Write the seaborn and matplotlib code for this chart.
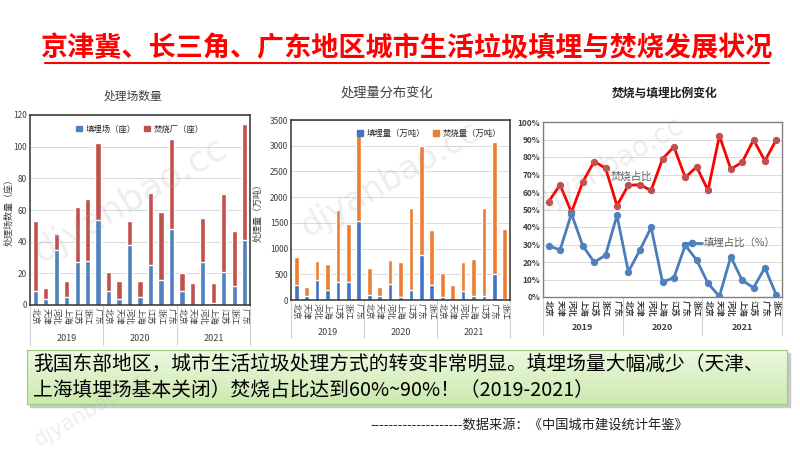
import seaborn as sns
import matplotlib.pyplot as plt
import matplotlib.transforms as mtransforms
from matplotlib.patches import Patch, Rectangle
from matplotlib.lines import Line2D
import pandas as pd
import numpy as np

years = ["2019", "2020", "2021"]
cities_a = ["北京", "天津", "河北", "上海", "江苏", "浙江", "广东"]
cities_b = ["北京", "天津", "河北", "上海", "江苏", "广东", "浙江"]
labels_sites = cities_a * 3
labels_mass = cities_a + cities_b + cities_b

# 处理场数量（座）
landfill_sites = [9, 4, 35, 5, 27, 28, 54, 9, 4, 38, 5, 25, 16, 48, 9, 0, 27, 1, 21, 12, 41]
incin_sites = [44, 7, 10, 10, 35, 39, 48, 12, 11, 15, 10, 46, 43, 57, 11, 14, 28, 13, 49, 35, 73]

# 处理量（万吨）
landfill_mass = [285, 70, 380, 200, 345, 350, 1535, 105, 70, 305, 52, 187, 877, 284,
                 52, 0, 168, 71, 84, 510, 19]
incin_mass = [547, 188, 381, 497, 1397, 1121, 1736, 508, 188, 476, 696, 1600, 2117, 1071,
              477, 297, 580, 735, 1703, 2561, 1355]

# 比例（%）
incin_ratio = [54.5, 64.1, 48.4, 65.8, 77.4, 73.6, 52.2, 63.9, 64.1, 60.9, 78.9, 85.8, 68.3, 74.4,
               60.9, 92.2, 73.1, 77.0, 89.8, 77.8, 89.9]
landfill_ratio = [29.2, 26.9, 47.6, 29.2, 19.9, 23.9, 46.7, 14.4, 26.6, 39.8, 8.5, 11.0, 29.6, 21.1,
                  7.8, 0.4, 23.0, 9.5, 5.3, 16.7, 1.1]

sns.set_style("white")
plt.rcParams['font.family'] = ['Noto Sans CJK SC', 'DejaVu Sans']

pos = np.arange(21)
df1 = pd.DataFrame({"pos": pos, "landfill": landfill_sites,
                    "total": np.add(landfill_sites, incin_sites)})
df2 = pd.DataFrame({"pos": pos, "landfill": landfill_mass,
                    "total": np.add(landfill_mass, incin_mass)})
df3 = pd.DataFrame({"pos": pos, "incin": np.array(incin_ratio) / 100,
                    "landfill": np.array(landfill_ratio) / 100})

fig = plt.figure(figsize=(8, 4.5), dpi=100)


def px_axes(x0, y0, x1, y1):
    return fig.add_axes([x0 / 800, 1 - y1 / 450, (x1 - x0) / 800, (y1 - y0) / 450])


def category_axis(ax, labels, year_y, sep_y, bold=False):
    ax.set_xlim(-0.5, 20.5)
    ax.set_xticks(pos)
    ax.set_xticklabels(labels, rotation=270, fontsize=6, color="#404040",
                       fontweight="bold" if bold else "normal")
    ax.tick_params(axis="x", length=0, pad=2)
    ax.set_xlabel("")
    tr = mtransforms.blended_transform_factory(ax.transData, ax.transAxes)
    for i, yr in enumerate(years):
        ax.text(i * 7 + 3, year_y, yr, transform=tr, ha="center", va="center",
                fontsize=6.5, color="#404040", fontweight="bold" if bold else "normal")
    for b in [-0.5, 6.5, 13.5, 20.5]:
        ax.add_line(Line2D([b, b], [0, sep_y], transform=tr, color="#d0d0d0",
                           lw=0.8, clip_on=False))


# ---- panel 1: 处理场数量
ax1 = px_axes(30, 115, 250, 305)
sns.barplot(data=df1, x="pos", y="total", color="#c0504d", width=0.5,
            saturation=1, ax=ax1)
sns.barplot(data=df1, x="pos", y="landfill", color="#4f81bd", width=0.5,
            saturation=1, ax=ax1)
ax1.set_ylim(0, 120)
ax1.set_yticks(range(0, 121, 20))
ax1.tick_params(axis="y", labelsize=6, length=0, labelcolor="#404040", pad=2)
ax1.yaxis.grid(True, color="#d9d9d9", lw=0.7)
ax1.set_axisbelow(True)
ax1.set_ylabel("处理场数量（座）", fontsize=6.5, color="#404040")
ax1.yaxis.set_label_coords(-0.075, 0.5)
category_axis(ax1, labels_sites, -0.174, -0.21)
for s in ax1.spines.values():
    s.set_color("#303030")
    s.set_linewidth(1.1)
ax1.legend([Patch(color="#4f81bd"), Patch(color="#c0504d")],
           ["填埋场（座）", "焚烧厂（座）"], loc="upper center", ncol=2,
           frameon=False, fontsize=6, handlelength=0.7, handleheight=0.7,
           handletextpad=0.4, columnspacing=1.0, bbox_to_anchor=(0.5, 0.99))
fig.text(133 / 800, 1 - 96 / 450, "处理场数量", ha="center", va="center",
         fontsize=8.5, color="#404040")

# ---- panel 2: 处理量分布变化
ax2 = px_axes(291, 120, 510, 300)
sns.barplot(data=df2, x="pos", y="total", color="#ed7d31", width=0.45,
            saturation=1, ax=ax2)
sns.barplot(data=df2, x="pos", y="landfill", color="#4472c4", width=0.45,
            saturation=1, ax=ax2)
ax2.set_ylim(0, 3500)
ax2.set_yticks(range(0, 3501, 500))
ax2.tick_params(axis="y", labelsize=6, length=0, labelcolor="#404040", pad=2)
ax2.yaxis.grid(True, color="#d9d9d9", lw=0.7)
ax2.set_axisbelow(True)
ax2.set_ylabel("处理量（万吨）", fontsize=6.5, color="#404040")
ax2.yaxis.set_label_coords(-0.13, 0.5)
category_axis(ax2, labels_mass, -0.183, -0.21)
for s in ax2.spines.values():
    s.set_color("#303030")
    s.set_linewidth(1.1)
ax2.legend([Patch(color="#4472c4"), Patch(color="#ed7d31")],
           ["填埋量（万吨）", "焚烧量（万吨）"], loc="upper center", ncol=2,
           frameon=False, fontsize=6, handlelength=0.7, handleheight=0.7,
           handletextpad=0.4, columnspacing=1.0, bbox_to_anchor=(0.63, 0.99))
fig.text(387 / 800, 1 - 93 / 450, "处理量分布变化", ha="center", va="center",
         fontsize=9.5, color="#404040")

# ---- panel 3: 焚烧与填埋比例变化
ax3 = px_axes(543, 122, 782, 297)
sns.lineplot(data=df3, x="pos", y="incin", color="#ff0000", lw=2, marker="o",
             markersize=4.5, markerfacecolor="#c0504d", markeredgecolor="#c0504d", ax=ax3)
sns.lineplot(data=df3, x="pos", y="landfill", color="#4a7ebb", lw=2, marker="o",
             markersize=4.5, markerfacecolor="#4f81bd", markeredgecolor="#4f81bd", ax=ax3)
ax3.set_ylim(0, 1)
ax3.set_yticks(np.arange(0, 1.01, 0.1))
ax3.set_yticklabels([f"{v}%" for v in range(0, 101, 10)], fontsize=6,
                    fontweight="bold", color="#404040")
ax3.tick_params(axis="y", length=0, pad=2)
ax3.yaxis.grid(True, color="#d9d9d9", lw=0.7)
ax3.set_axisbelow(True)
ax3.set_ylabel("")
category_axis(ax3, labels_mass, -0.177, -0.217, bold=True)
for s in ax3.spines.values():
    s.set_color("#808080")
    s.set_linewidth(1.0)
ax3.text(5.4, 0.686, "焚烧占比", fontsize=7.5, color="#606060", va="center")
ax3.plot([11.8, 13.45], [0.309, 0.309], color="#4a7ebb", lw=2)
ax3.plot([12.6], [0.309], "o", color="#4f81bd", markersize=4.5)
ax3.text(13.6, 0.309, "填埋占比（%）", fontsize=7.5, color="#606060", va="center")
fig.text(665 / 800, 1 - 93 / 450, "焚烧与填埋比例变化", ha="center", va="center",
         fontsize=8.5, fontweight="bold", color="#202020")

# ---- title
fig.text(407 / 800, 1 - 48 / 450, "京津冀、长三角、广东地区城市生活垃圾填埋与焚烧发展状况",
         ha="center", va="center", fontsize=19.5, fontweight="bold", color="#ff0000")
fig.add_artist(Line2D([45 / 800, 769 / 800], [1 - 63 / 450, 1 - 63 / 450],
                      color="#ff0000", lw=1.5))

# ---- green note box (shadow + gradient)
shadow = Rectangle((30 / 800, 1 - 407 / 450), 760 / 800, 54 / 450,
                   transform=fig.transFigure, color="#c8c8c8", zorder=-1)
fig.add_artist(shadow)
axb = px_axes(27, 350, 787, 404)
axb.set_zorder(1)
grad = np.linspace(0, 1, 100).reshape(-1, 1)
top = np.array([0.925, 0.973, 0.875])
bot = np.array([0.800, 0.917, 0.690])
img = top + (bot - top) * grad[:, :, None]
axb.imshow(img, aspect="auto", extent=[0, 1, 0, 1])
axb.set_xticks([])
axb.set_yticks([])
for s in axb.spines.values():
    s.set_color("#9ccc7c")
    s.set_linewidth(0.8)
axb.text(6 / 760, 1 - 15 / 54,
         "我国东部地区，城市生活垃圾处理方式的转变非常明显。填埋场量大幅减少（天津、",
         fontsize=14.2, va="center", ha="left", color="#000000", transform=axb.transAxes)
axb.text(6 / 760, 1 - 41 / 54,
         "上海填埋场基本关闭）焚烧占比达到60%~90%！（2019-2021）",
         fontsize=14.2, va="center", ha="left", color="#000000", transform=axb.transAxes)

# ---- source
fig.text(370 / 800, 1 - 425 / 450,
         "--------------------数据来源：《中国城市建设统计年鉴》",
         fontsize=9.5, va="center", ha="left", color="#202020")

# ---- watermarks (faint)
for (wx, wy, fs) in [(130, 200, 26), (390, 180, 24), (610, 165, 20),
                     (90, 410, 15)]:
    fig.text(wx / 800, 1 - wy / 450, "djyanbao.cc", fontsize=fs, color="#a0a0a0",
             alpha=0.18, rotation=30, ha="center", va="center",
             family=["DejaVu Sans"], zorder=5)

fig.savefig("out.png", dpi=100)
